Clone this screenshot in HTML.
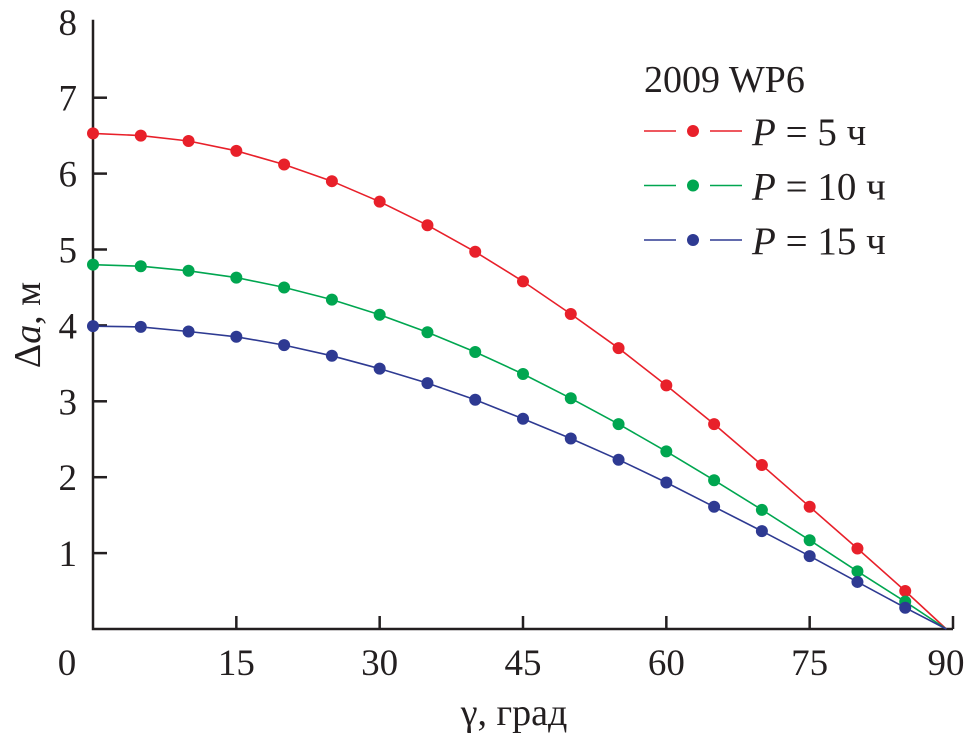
<!DOCTYPE html>
<html><head><meta charset="utf-8"><style>
body{margin:0;background:#fff}
svg{display:block;font-family:"Liberation Serif",serif}
</style></head><body>
<svg id="c" width="973" height="737">
<g id="axes"></g><g id="series"></g>
<g>
<text x="644" y="92" font-size="38" fill="#231f20">2009 WP6</text>
</g>
<text x="514" y="725" font-size="38" text-anchor="middle" fill="#231f20">γ, град</text>
<text transform="translate(40,325) rotate(-90)" font-size="38" text-anchor="middle" fill="#231f20">Δ<tspan font-style="italic">a</tspan>, м</text>
</svg>
<script>
const gammas=[0,5,10,15,20,25,30,35,40,45,50,55,60,65,70,75,80,85];
const endGamma=89.3;
const red=[6.53,6.5,6.43,6.3,6.12,5.9,5.63,5.32,4.97,4.58,4.15,3.7,3.21,2.7,2.16,1.61,1.06,0.5];
const green=[4.8,4.78,4.72,4.63,4.5,4.34,4.14,3.91,3.65,3.36,3.04,2.7,2.34,1.96,1.57,1.17,0.76,0.36];
const blue=[3.99,3.98,3.92,3.85,3.74,3.6,3.43,3.24,3.02,2.77,2.51,2.23,1.93,1.61,1.29,0.96,0.62,0.28];
const xTicks=[0,15,30,45,60,75,90];
const yTicks=[1,2,3,4,5,6,7,8];
const seriesLabels=["5","10","15"];
const NS="http://www.w3.org/2000/svg";
const X=v=>93+v*(953-93)/90;
const Y=v=>629-v*75.9;
function mk(tag,attrs,parent){const e=document.createElementNS(NS,tag);for(const k in attrs)e.setAttribute(k,attrs[k]);parent.appendChild(e);return e;}
const ax=document.getElementById('axes');
let l=mk('path',{d:`M93,${Y(8)-2}V629H953`,stroke:'#231f20','stroke-width':2.5,fill:'none'},ax);


xTicks.forEach(t=>{
 if(t>0){const k=mk('line',{x1:X(t),x2:X(t),y1:629,y2:616,stroke:'#231f20','stroke-width':2.5},ax);
 
 }
 const tx=mk('text',{x:t===0?67:(t===90?946:X(t)),y:675,'font-size':37,'text-anchor':'middle',fill:'#231f20'},ax);tx.textContent=t;
 
 
});
yTicks.forEach(t=>{
 if(t<8){const k=mk('line',{x1:93,x2:107,y1:Y(t),y2:Y(t),stroke:'#231f20','stroke-width':2.5},ax);
 
 }
 const tx=mk('text',{x:77,y:Y(t)+13,'font-size':37,'text-anchor':'end',fill:'#231f20'},ax);tx.textContent=t;
 
 
});
const sg=document.getElementById('series');
const all=[[red,'#e8202a'],[green,'#00a650'],[blue,'#2e3a92']];
all.forEach(([vals,col],i)=>{
 const g=mk('g',{},sg);
 
 
 let d=gammas.map((gm,j)=>(j?'L':'M')+X(gm).toFixed(1)+','+Y(vals[j]).toFixed(1)).join('')+'L'+X(endGamma)+','+Y(0);
 const p=mk('path',{d,stroke:col,'stroke-width':1.6,fill:'none'},g);
 
 
 gammas.forEach((gm,j)=>{
  const c=mk('circle',{cx:X(gm),cy:Y(vals[j]),r:6,fill:col},g);
  
  
 });
 const ly=131+i*54.5;
 const lg=mk('g',{},sg);
 
 
 mk('line',{x1:644,x2:676,y1:ly,y2:ly,stroke:col,'stroke-width':1.6},lg);
 mk('line',{x1:710,x2:742,y1:ly,y2:ly,stroke:col,'stroke-width':1.6},lg);
 mk('circle',{cx:693,cy:ly,r:6,fill:col},lg);
 const t=mk('text',{x:752,y:ly+14,'font-size':39,fill:'#231f20'},lg);
 t.innerHTML='<tspan font-style="italic">P</tspan> = '+seriesLabels[i]+' ч';
});
</script>
</body></html>
